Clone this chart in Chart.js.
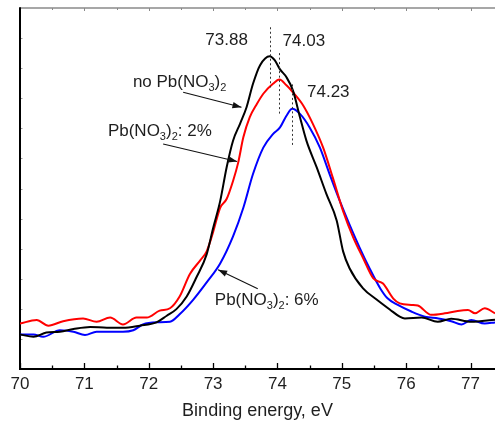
<!DOCTYPE html>
<html>
<head>
<meta charset="utf-8">
<script src="https://cdn.jsdelivr.net/npm/chart.js@4.4.1/dist/chart.umd.min.js"></script>
<style>
  html, body { margin: 0; padding: 0; background: #fff; }
  canvas { display: block; }
</style>
</head>
<body>
<canvas id="c" width="495" height="423"></canvas>
<script>
// XPS spectra: intensity (a.u.) against binding energy (eV)

// no Pb(NO3)2
const energyNone = [70.00, 70.21, 70.41, 70.62, 70.83, 71.09, 71.35, 71.60, 71.86, 72.12, 72.28, 72.43, 72.59, 72.74, 72.90, 73.00, 73.11, 73.21, 73.31, 73.42, 73.52, 73.62, 73.73, 73.88, 73.96, 74.04, 74.14, 74.24, 74.35, 74.45, 74.61, 74.76, 74.92, 75.02, 75.12, 75.33, 75.54, 75.75, 75.90, 75.98, 76.24, 76.49, 76.70, 77.01, 77.38];
const countsNone = [11.5, 10.7, 12.1, 12.4, 13.3, 14.0, 13.7, 13.7, 14.4, 15.5, 17.7, 19.9, 24.1, 30.4, 38.1, 46.8, 55.8, 67.0, 75.9, 81.6, 87.0, 94.8, 101.0, 104.0, 102.6, 99.6, 97.0, 92.6, 83.7, 75.9, 67.0, 58.2, 49.4, 39.1, 33.5, 26.8, 23.1, 19.7, 17.4, 16.8, 17.1, 15.7, 16.7, 15.7, 16.4];

// Pb(NO3)2: 2%
const energy2 = [70.00, 70.26, 70.44, 70.67, 70.98, 71.19, 71.40, 71.60, 71.81, 71.97, 72.17, 72.33, 72.48, 72.64, 72.80, 72.90, 73.00, 73.11, 73.21, 73.31, 73.39, 73.47, 73.57, 73.68, 73.78, 73.93, 74.03, 74.14, 74.24, 74.40, 74.55, 74.71, 74.86, 75.02, 75.18, 75.33, 75.49, 75.64, 75.80, 75.90, 76.08, 76.18, 76.39, 76.60, 76.80, 76.96, 77.07, 77.22, 77.38];
const counts2 = [15.1, 16.3, 14.4, 15.9, 16.8, 15.7, 17.1, 14.8, 17.1, 17.1, 19.4, 20.2, 24.1, 31.6, 36.1, 39.1, 45.5, 53.6, 56.5, 62.5, 68.6, 77.0, 83.7, 88.1, 91.5, 94.8, 96.2, 94.3, 92.0, 87.6, 81.5, 73.6, 63.6, 52.5, 43.6, 36.9, 30.1, 28.4, 23.4, 21.8, 21.3, 21.1, 18.0, 18.5, 19.3, 19.6, 18.5, 20.2, 18.5];

// Pb(NO3)2: 6%
const energy6 = [70.00, 70.21, 70.36, 70.62, 70.83, 71.01, 71.19, 71.40, 71.60, 71.76, 71.91, 72.12, 72.33, 72.48, 72.69, 72.90, 73.11, 73.31, 73.47, 73.62, 73.78, 73.93, 74.04, 74.14, 74.23, 74.35, 74.50, 74.66, 74.81, 74.97, 75.12, 75.28, 75.43, 75.60, 75.71, 75.87, 76.08, 76.29, 76.50, 76.70, 76.86, 77.01, 77.22, 77.38];
const counts6 = [11.5, 11.5, 10.7, 12.9, 12.4, 11.3, 12.4, 12.4, 12.4, 12.9, 14.8, 15.5, 15.7, 18.2, 23.0, 28.8, 35.1, 44.1, 53.6, 64.8, 73.6, 78.1, 80.3, 84.2, 86.5, 84.8, 80.3, 73.6, 64.8, 55.8, 48.0, 40.2, 33.5, 26.7, 23.5, 21.3, 19.1, 17.4, 16.8, 15.9, 14.8, 16.3, 15.1, 15.5];

// marked peak maxima
const peakEnergies = [73.88, 74.03, 74.23];
const peakLabels = ['73.88', '74.03', '74.23'];

// labelled energy ticks
const xTicks = [70, 71, 72, 73, 74, 75, 76, 77];

const xMin = 70, xMax = 77.38;
const yMin = 0, yMax = 120;

const toPoints = (xs, ys) => xs.map((v, i) => ({ x: v, y: ys[i] }));

const FONT = '"Liberation Sans", Arial, Helvetica, sans-serif';
const TEXT = '#1e1e1e';

// label text with subscripts: parts are [text, isSubscript]
function drawRich(ctx, parts, x, y, size) {
  let cx = x;
  for (const [t, sub] of parts) {
    const s = sub ? Math.round(size * 0.66) : size;
    ctx.font = s + 'px ' + FONT;
    ctx.fillText(t, cx, sub ? y + 4 : y);
    cx += ctx.measureText(t).width;
  }
}

function arrow(ctx, x1, y1, x2, y2) {
  ctx.beginPath();
  ctx.moveTo(x1, y1);
  ctx.lineTo(x2, y2);
  ctx.stroke();
  const ang = Math.atan2(y2 - y1, x2 - x1);
  const L = 9, W = 3.2;
  ctx.beginPath();
  ctx.moveTo(x2, y2);
  ctx.lineTo(x2 - L * Math.cos(ang) + W * Math.sin(ang), y2 - L * Math.sin(ang) - W * Math.cos(ang));
  ctx.lineTo(x2 - L * Math.cos(ang) - W * Math.sin(ang), y2 - L * Math.sin(ang) + W * Math.cos(ang));
  ctx.closePath();
  ctx.fill();
}

// frame: left/top borders and inward tick marks
const framePlugin = {
  id: 'frame',
  beforeDatasetsDraw(chart) {
    const { ctx, chartArea: a, scales: { x, y } } = chart;
    ctx.save();
    const seg = (x1, y1, x2, y2) => { ctx.beginPath(); ctx.moveTo(x1, y1); ctx.lineTo(x2, y2); ctx.stroke(); };

    ctx.strokeStyle = '#8a8a8a';
    ctx.lineWidth = 1.5;
    seg(a.left, a.top, a.right, a.top);

    for (let v = xMin; v <= xMax; v += 0.5) {
      const px = Math.round(x.getPixelForValue(v)) + 0.5;
      const major = Math.abs(v - Math.round(v)) < 1e-6;
      ctx.strokeStyle = '#8a8a8a';
      ctx.lineWidth = 1;
      seg(px, a.top, px, a.top + (major ? 3 : 2));
      ctx.strokeStyle = '#000';
      ctx.lineWidth = 1.3;
      seg(px, a.bottom, px, a.bottom - (major ? 6 : 3.5));
    }

    ctx.strokeStyle = '#999';
    ctx.lineWidth = 1;
    for (let v = yMin + 10; v < yMax; v += 10) {
      const py = Math.round(y.getPixelForValue(v)) + 0.5;
      seg(a.left, py, a.left + 2.5, py);
    }

    ctx.strokeStyle = '#000';
    ctx.lineWidth = 2;
    seg(a.left, a.top - 0.75, a.left, a.bottom);
    ctx.restore();
  }
};

// peak markers, values and series labels
const notesPlugin = {
  id: 'notes',
  afterDatasetsDraw(chart) {
    const { ctx, scales: { x, y } } = chart;
    const X = v => x.getPixelForValue(v);
    const Y = v => y.getPixelForValue(v);
    ctx.save();

    // dotted verticals at the peak maxima
    const spans = [[113.6, 93.6], [105.0, 84.9], [94.6, 73.9]];
    ctx.strokeStyle = '#333';
    ctx.lineWidth = 1;
    ctx.setLineDash([2, 2.5]);
    peakEnergies.forEach((e, i) => {
      const px = Math.round(X(e)) + 0.5;
      ctx.beginPath();
      ctx.moveTo(px, Y(spans[i][0]));
      ctx.lineTo(px, Y(spans[i][1]));
      ctx.stroke();
    });
    ctx.setLineDash([]);

    // peak values
    ctx.fillStyle = TEXT;
    ctx.font = '17px ' + FONT;
    ctx.textAlign = 'center';
    ctx.textBaseline = 'alphabetic';
    const valuePos = [[73.21, 107.6], [74.41, 107.3], [74.79, 90.4]];
    peakLabels.forEach((t, i) => ctx.fillText(t, X(valuePos[i][0]), Y(valuePos[i][1])));

    // series labels
    ctx.textAlign = 'left';
    drawRich(ctx, [['no Pb(NO', false], ['3', true], [')', false], ['2', true]], X(71.754), Y(93.8), 17);
    drawRich(ctx, [['Pb(NO', false], ['3', true], [')', false], ['2', true], [': 2%', false]], X(71.366), Y(77.6), 17);
    drawRich(ctx, [['Pb(NO', false], ['3', true], [')', false], ['2', true], [': 6%', false]], X(73.027), Y(21.4), 17);

    // pointers
    ctx.strokeStyle = '#111';
    ctx.fillStyle = '#111';
    ctx.lineWidth = 1.1;
    arrow(ctx, X(72.535), Y(92.0), X(73.441), Y(87.0));
    arrow(ctx, X(72.224), Y(74.8), X(73.373), Y(69.0));
    arrow(ctx, X(73.694), Y(26.7), X(73.078), Y(33.0));
    ctx.restore();
  }
};

const lineStyle = { borderWidth: 2, pointRadius: 0, fill: false, cubicInterpolationMode: 'monotone' };

new Chart(document.getElementById('c'), {
  type: 'line',
  data: {
    datasets: [
      { label: 'no Pb(NO3)2', data: toPoints(energyNone, countsNone), borderColor: '#000000', ...lineStyle },
      { label: 'Pb(NO3)2: 2%', data: toPoints(energy2, counts2), borderColor: '#ff0000', ...lineStyle },
      { label: 'Pb(NO3)2: 6%', data: toPoints(energy6, counts6), borderColor: '#0000ff', ...lineStyle }
    ]
  },
  options: {
    responsive: false,
    animation: false,
    devicePixelRatio: 1,
    layout: { padding: { left: 20, top: 8, right: 0, bottom: 0 } },
    plugins: { legend: { display: false }, tooltip: { enabled: false } },
    scales: {
      x: {
        type: 'linear',
        min: xMin,
        max: xMax,
        afterBuildTicks: s => { s.ticks = xTicks.map(v => ({ value: v })); },
        ticks: { color: TEXT, font: { family: FONT, size: 17 }, padding: 5, maxRotation: 0, autoSkip: false },
        grid: { display: false, drawTicks: false },
        border: { display: true, color: '#000', width: 2 },
        title: { display: true, text: 'Binding energy, eV', color: TEXT, font: { family: FONT, size: 18 }, padding: { top: 1, bottom: 1 } }
      },
      y: { type: 'linear', min: yMin, max: yMax, display: false }
    }
  },
  plugins: [framePlugin, notesPlugin]
});
</script>
</body>
</html>
